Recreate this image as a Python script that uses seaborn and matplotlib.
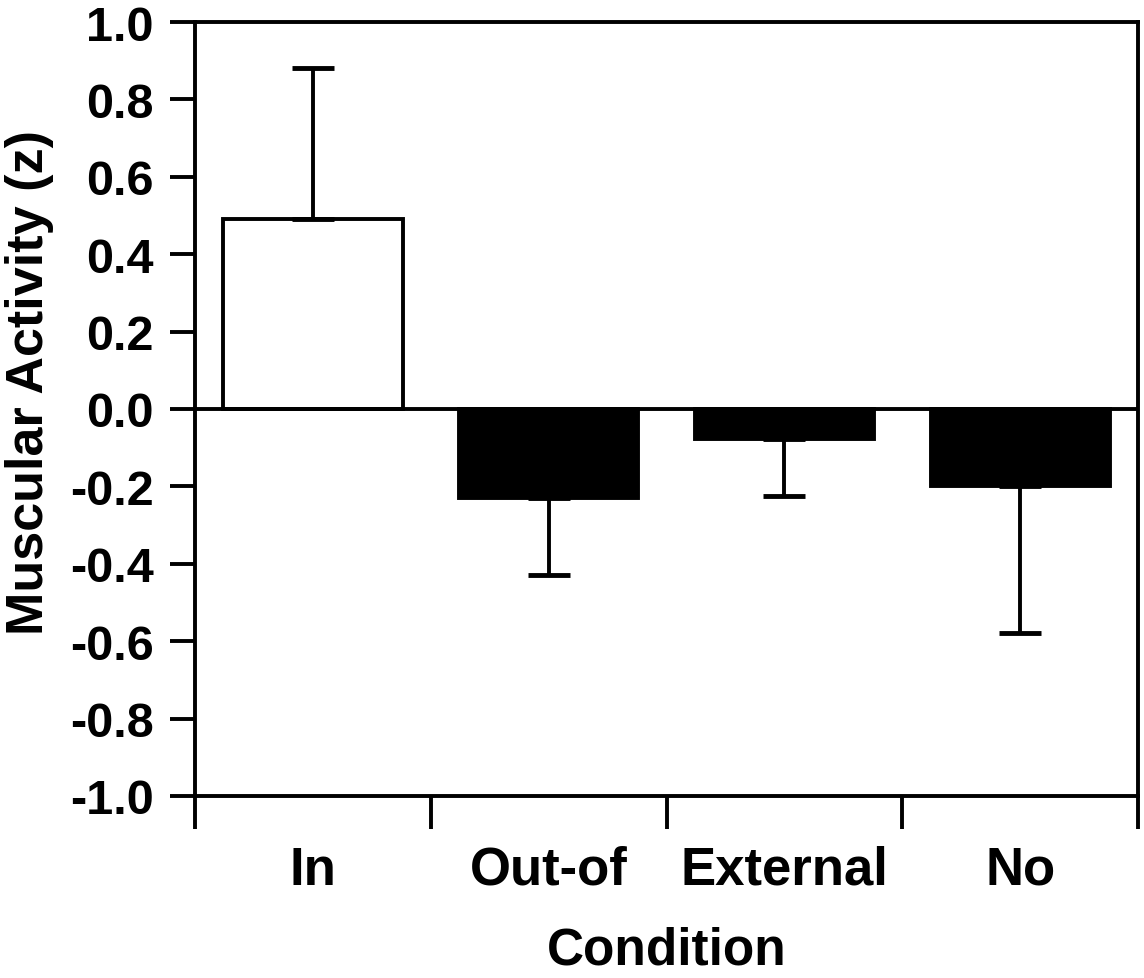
import numpy as np
import pandas as pd
import seaborn as sns
import matplotlib.pyplot as plt

# values
conditions = ['In', 'Out-of', 'External', 'No']
means = [0.49, -0.23, -0.078, -0.20]
errors = [0.39, 0.20, 0.147, 0.38]
bar_colors = ['white', 'black', 'black', 'black']
y_ticks = [-1.0, -0.8, -0.6, -0.4, -0.2, 0.0, 0.2, 0.4, 0.6, 0.8, 1.0]

sns.set_style('ticks')
plt.rcParams['font.family'] = ['Liberation Sans', 'DejaVu Sans']
plt.rcParams['font.weight'] = 'bold'
plt.rcParams['text.color'] = 'black'
plt.rcParams['axes.labelcolor'] = 'black'
plt.rcParams['xtick.color'] = 'black'
plt.rcParams['ytick.color'] = 'black'

df = pd.DataFrame({'Condition': conditions, 'Activity': means})

fig = plt.figure(figsize=(11.44, 9.79), dpi=100)
ax = fig.add_axes([0.1705, 0.186, 0.8243, 0.7905])

sns.barplot(data=df, x='Condition', y='Activity', hue='Condition',
            palette=bar_colors, order=conditions, hue_order=conditions,
            width=0.76, edgecolor='black', linewidth=2.8, legend=False, ax=ax)

# one-sided error bars, pointing away from zero
lower = [e if m < 0 else 0 for m, e in zip(means, errors)]
upper = [e if m >= 0 else 0 for m, e in zip(means, errors)]
ax.errorbar(np.arange(len(conditions)), means, yerr=[lower, upper], fmt='none',
            ecolor='black', elinewidth=2.8, capsize=15, capthick=3.5, zorder=1)

ax.axhline(0, color='black', lw=2.8, zorder=5)

ax.set_ylim(-1.0, 1.0)
ax.set_xlim(-0.5, 3.5)
ax.set_yticks(y_ticks)
ax.set_yticklabels([f'{t:.1f}' for t in y_ticks])

# ticks at the category boundaries, labels at the centres
ax.set_xticks(np.arange(-0.5, 4, 1.0))
ax.set_xticklabels([])
ax.set_xticks(np.arange(len(conditions)), minor=True)
ax.set_xticklabels(conditions, minor=True)
ax.tick_params(axis='x', which='major', length=24, width=2.8, direction='out')
ax.tick_params(axis='x', which='minor', length=0, pad=35, labelsize=38)
ax.tick_params(axis='y', length=18, width=2.8, direction='out', pad=12, labelsize=35)

for side in ['left', 'right', 'top', 'bottom']:
    ax.spines[side].set_visible(True)
    ax.spines[side].set_linewidth(2.8)
    ax.spines[side].set_color('black')

ax.set_xlabel('Condition', fontsize=37, fontweight='bold', labelpad=22)
ax.set_ylabel('Muscular Activity (z)', fontsize=37.5, fontweight='bold')
ax.yaxis.set_label_coords(-0.150, 0.536)

fig.savefig('out.png', dpi=100)
